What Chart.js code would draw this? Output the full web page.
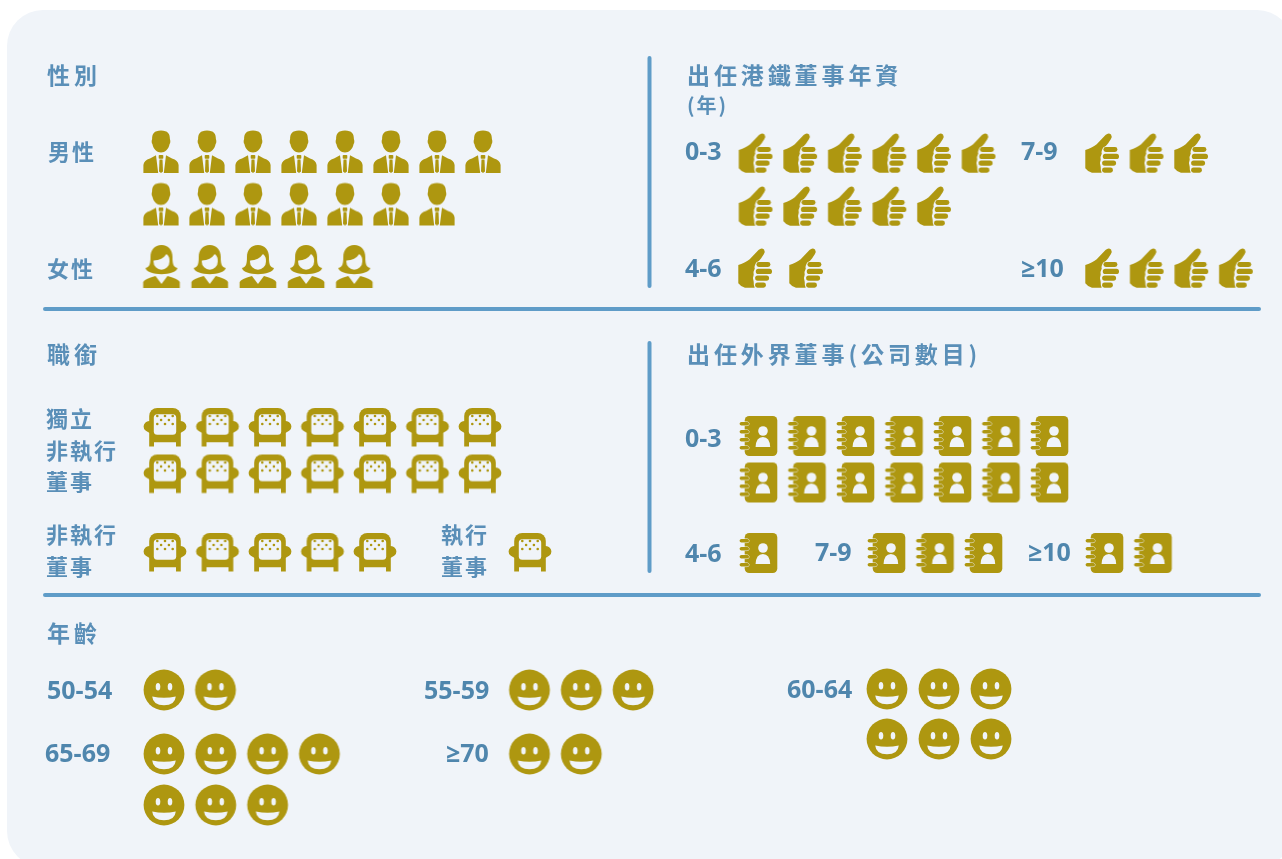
<!DOCTYPE html>
<html>
<head>
<meta charset="utf-8">
<title>董事會成員</title>
<script src="https://cdn.jsdelivr.net/npm/chart.js@4"></script>
<style>
  html, body { margin: 0; padding: 0; background: #fff; }
  canvas { display: block; }
</style>
</head>
<body>
<canvas id="board" width="1282" height="859"></canvas>
<script>
// data, one icon per director
var genderCats = ['男性', '女性'];
var genderCounts = [15, 5];
var tenureCats = ['0-3', '4-6', '7-9', '≥10'];
var tenureCounts = [11, 2, 3, 4];
var titleCats = ['獨立\n非執行\n董事', '非執行\n董事', '執行\n董事'];
var titleCounts = [14, 5, 1];
var outsideCats = ['0-3', '4-6', '7-9', '≥10'];
var outsideCounts = [14, 1, 3, 2];
var ageCats = ['50-54', '55-59', '60-64', '65-69', '≥70'];
var ageCounts = [2, 3, 6, 7, 2];

var headings = [
    { text: '性別', x: 47, y: 75 },
    { text: '出任港鐵董事年資', x: 687, y: 75 },
    { text: '(年)', x: 687, y: 105, size: 20 },
    { text: '職銜', x: 47, y: 354 },
    { text: '出任外界董事(公司數目)', x: 687, y: 354 },
    { text: '年齡', x: 47, y: 633 }
];

var GOLD = '#ae9710';
var PANEL = '#f0f4f9';
var BLUE = '#5f9cc8';
var TEXT = '#5a8fb8';
var NUM = '#4f86ad';

// where each category's icons start and how they wrap
var groups = [
    { cats: genderCats, counts: genderCounts, icon: 'man', slots: [
        { x: 161, y: 152, dx: 46, dy: 52.5, perRow: 8, lx: 48, ly: 152 },
        { x: 161.5, y: 267, dx: 48.2, dy: 0, perRow: 5, lx: 47, ly: 269, icon: 'woman' }
    ] },
    { cats: tenureCats, counts: tenureCounts, icon: 'thumb', slots: [
        { x: 755.5, y: 153, dx: 44.6, dy: 53, perRow: 6, lx: 685, ly: 153 },
        { x: 755, y: 268, dx: 51, dy: 0, perRow: 2, lx: 685, ly: 270 },
        { x: 1102, y: 153, dx: 44.5, dy: 0, perRow: 3, lx: 1021, ly: 153 },
        { x: 1102, y: 268, dx: 44.6, dy: 0, perRow: 4, lx: 1021, ly: 270 }
    ] },
    { cats: titleCats, counts: titleCounts, icon: 'chair', slots: [
        { x: 165, y: 427, dx: 52.5, dy: 46.5, perRow: 7, lx: 46, ly: 419 },
        { x: 165, y: 552, dx: 52.5, dy: 0, perRow: 5, lx: 46, ly: 535 },
        { x: 530, y: 552, dx: 0, dy: 0, perRow: 1, lx: 441, ly: 535 }
    ] },
    { cats: outsideCats, counts: outsideCounts, icon: 'book', slots: [
        { x: 759, y: 436, dx: 48.5, dy: 46.5, perRow: 7, lx: 685, ly: 440 },
        { x: 759, y: 553, dx: 0, dy: 0, perRow: 1, lx: 685, ly: 555 },
        { x: 887, y: 553, dx: 48.5, dy: 0, perRow: 3, lx: 815, ly: 554 },
        { x: 1105, y: 553, dx: 48.5, dy: 0, perRow: 2, lx: 1028, ly: 554 }
    ] },
    { cats: ageCats, counts: ageCounts, icon: 'face', slots: [
        { x: 164, y: 690, dx: 51.5, dy: 0, perRow: 2, lx: 47, ly: 692 },
        { x: 529.5, y: 690, dx: 51.8, dy: 0, perRow: 3, lx: 424, ly: 692 },
        { x: 887, y: 689, dx: 52, dy: 50, perRow: 3, lx: 787, ly: 691 },
        { x: 164, y: 754, dx: 51.8, dy: 51, perRow: 4, lx: 45, ly: 755 },
        { x: 529.5, y: 754, dx: 51.8, dy: 0, perRow: 2, lx: 446, ly: 755 }
    ] }
];

// dividers, in the same units as the hidden axes
var dividers = [
    [649.5, 58, 649.5, 286],
    [45, 309, 1259, 309],
    [649.5, 343, 649.5, 571],
    [45, 595, 1259, 595]
];

function bar(c, x, y, w, h, r) {
    c.beginPath();
    c.roundRect(x, y, w, h, r);
    c.fill();
}

function jacket(c, s) {
    c.beginPath();
    c.moveTo(s * 17.6, 21);
    c.lineTo(s * 17.6, 13);
    c.quadraticCurveTo(s * 17, 8, s * 11, 6.5);
    c.lineTo(s * 5, 3.2);
    c.lineTo(s * 2.8, 21);
    c.closePath();
    c.fill();
}

var drawIcon = {
    man: function (c) {
        c.beginPath();
        c.moveTo(0, -21.5);
        c.bezierCurveTo(7, -21.5, 8.9, -18, 8.9, -13);
        c.bezierCurveTo(9.6, -11, 9.4, -8.5, 8.6, -8);
        c.bezierCurveTo(7.5, -2.5, 4, 0.5, 0, 0.5);
        c.bezierCurveTo(-4, 0.5, -7.5, -2.5, -8.6, -8);
        c.bezierCurveTo(-9.4, -8.5, -9.6, -11, -8.9, -13);
        c.bezierCurveTo(-8.9, -18, -7, -21.5, 0, -21.5);
        c.fill();
        jacket(c, -1);
        jacket(c, 1);
        bar(c, -2.3, 3, 4.6, 3.8, 0.8);
        c.beginPath();
        c.moveTo(-1.5, 7.6);
        c.lineTo(1.5, 7.6);
        c.lineTo(2, 19.5);
        c.lineTo(0, 21);
        c.lineTo(-2, 19.5);
        c.closePath();
        c.fill();
    },
    woman: function (c) {
        c.beginPath();
        c.moveTo(0, -22);
        c.bezierCurveTo(7, -22, 11, -17, 11, -10);
        c.bezierCurveTo(11, -4, 11.5, 0, 16, 1);
        c.bezierCurveTo(15, 5, 8, 7.2, 0, 7.2);
        c.bezierCurveTo(-8, 7.2, -15, 5, -16, 1);
        c.bezierCurveTo(-11.5, 0, -11, -4, -11, -10);
        c.bezierCurveTo(-11, -17, -7, -22, 0, -22);
        c.fill();
        c.fillStyle = PANEL;
        c.beginPath();
        c.moveTo(-7.8, -6.5);
        c.quadraticCurveTo(1, -7, 5, -13);
        c.quadraticCurveTo(8.5, -10.5, 8, -5.3);
        c.arc(0, -5.3, 8, 0, Math.PI);
        c.closePath();
        c.fill();
        c.fillStyle = GOLD;
        c.beginPath();
        c.moveTo(-18.3, 21);
        c.lineTo(-18.3, 15);
        c.quadraticCurveTo(-17, 12, -6, 9);
        c.lineTo(0, 17);
        c.lineTo(6, 9);
        c.quadraticCurveTo(17, 12, 18.3, 15);
        c.lineTo(18.3, 21);
        c.closePath();
        c.fill();
    },
    thumb: function (c) {
        c.beginPath();
        c.moveTo(-16.7, -3);
        c.quadraticCurveTo(-9, -5.5, -5.3, -8.7);
        c.lineTo(3.5, -18);
        c.quadraticCurveTo(6.5, -20.8, 9, -18.5);
        c.quadraticCurveTo(10.5, -16.5, 8.8, -13.8);
        c.lineTo(6, -9.5);
        c.quadraticCurveTo(4.5, -7, 1.2, -5.6);
        c.quadraticCurveTo(-1.2, -1, -0.2, 0.4);
        c.quadraticCurveTo(-2, 3.5, -1.3, 6.8);
        c.quadraticCurveTo(-3, 10.5, -1.3, 13.8);
        c.quadraticCurveTo(-1.5, 17, -0.3, 19.7);
        c.lineTo(-10, 19.7);
        c.quadraticCurveTo(-14, 19, -16.7, 15.3);
        c.closePath();
        c.fill();
        bar(c, 1.4, -6, 14, 5, 2.4);
        bar(c, 0.8, 0.7, 16.2, 5.3, 2.6);
        bar(c, 0.1, 7.4, 14, 5.3, 2.6);
        bar(c, 0.1, 14.4, 10.8, 5.3, 2.4);
    },
    chair: function (c) {
        bar(c, -15.8, -19, 31.6, 29, 8);
        c.beginPath();
        c.ellipse(-15.8, -0.5, 5.6, 5.4, 0, 0, Math.PI * 2);
        c.ellipse(15.8, -0.5, 5.6, 5.4, 0, 0, Math.PI * 2);
        c.fill();
        c.beginPath();
        c.moveTo(-20, 2);
        c.lineTo(-15.8, 6);
        c.lineTo(-15.8, 19.5);
        c.lineTo(-11, 19.5);
        c.lineTo(-11, 15.2);
        c.lineTo(11, 15.2);
        c.lineTo(11, 19.5);
        c.lineTo(15.8, 19.5);
        c.lineTo(15.8, 6);
        c.lineTo(20, 2);
        c.closePath();
        c.fill();
        c.fillStyle = PANEL;
        bar(c, -11.2, -12.8, 22.4, 20.6, 3.5);
        c.fillStyle = GOLD;
        [[-7.7, -11], [0, -11], [7.7, -11], [-3.9, -7], [3.9, -7], [-7.7, -3], [0, -3], [7.7, -3]].forEach(function (d) {
            c.beginPath();
            c.arc(d[0], d[1], 1.3, 0, Math.PI * 2);
            c.fill();
        });
    },
    book: function (c) {
        bar(c, -14.3, -20, 32.6, 40, 4.5);
        [-14, -6, 2, 10].forEach(function (y) {
            c.beginPath();
            c.roundRect(-19.4, y, 9.4, 3.6, 1.8);
            c.strokeStyle = PANEL;
            c.lineWidth = 1;
            c.stroke();
            c.fill();
        });
        c.fillStyle = PANEL;
        c.beginPath();
        c.arc(4, -5, 4.8, 0, Math.PI * 2);
        c.fill();
        c.beginPath();
        c.moveTo(-3.4, 11);
        c.lineTo(11.2, 11);
        c.quadraticCurveTo(10.8, 1.2, 3.9, 1);
        c.quadraticCurveTo(-3, 1.2, -3.4, 11);
        c.fill();
    },
    face: function (c) {
        c.beginPath();
        c.arc(0, 0, 20.4, 0, Math.PI * 2);
        c.fill();
        c.fillStyle = PANEL;
        [-6, 6].forEach(function (x) {
            c.beginPath();
            c.ellipse(x, -3.3, 2.3, 3.8, 0, 0, Math.PI * 2);
            c.fill();
        });
        c.beginPath();
        c.moveTo(-11.8, 6.4);
        c.quadraticCurveTo(0, 9, 11.8, 6.4);
        c.quadraticCurveTo(11, 15.2, 0, 15.2);
        c.quadraticCurveTo(-11, 15.2, -11.8, 6.4);
        c.fill();
    }
};

function makeIcon(name) {
    var cv = document.createElement('canvas');
    cv.width = 48;
    cv.height = 48;
    var c = cv.getContext('2d');
    c.translate(24, 24);
    c.fillStyle = GOLD;
    drawIcon[name](c);
    return cv;
}

var icons = {};
Object.keys(drawIcon).forEach(function (k) { icons[k] = makeIcon(k); });

// one scatter dataset per category, one point per person
var datasets = [];
var labels = [];
groups.forEach(function (g) {
    g.cats.forEach(function (cat, i) {
        var s = g.slots[i];
        var pts = [];
        for (var n = 0; n < g.counts[i]; n++) {
            pts.push({
                x: s.x + (n % s.perRow) * s.dx,
                y: s.y + Math.floor(n / s.perRow) * s.dy
            });
        }
        datasets.push({
            label: cat.replace(/\n/g, ''),
            data: pts,
            pointStyle: icons[s.icon || g.icon],
            pointRadius: 24,
            pointHoverRadius: 24
        });
        labels.push({ text: cat, x: s.lx, y: s.ly });
    });
});

function drawText(c, text, x, y, size, spacing, weight, family, color) {
    c.font = weight + ' ' + size + 'px ' + family;
    c.letterSpacing = spacing + 'px';
    c.fillStyle = color;
    c.textAlign = 'left';
    c.textBaseline = 'middle';
    c.fillText(text, x, y);
}

var panelPlugin = {
    id: 'panel',
    beforeDatasetsDraw: function (chart) {
        var c = chart.ctx;
        var xs = chart.scales.x;
        var ys = chart.scales.y;
        var cjk = '"Noto Sans CJK TC", sans-serif';
        c.save();
        c.fillStyle = PANEL;
        c.beginPath();
        c.roundRect(xs.getPixelForValue(7), ys.getPixelForValue(10), 1286, 857, 36);
        c.fill();

        c.strokeStyle = BLUE;
        c.lineWidth = 4;
        c.lineCap = 'round';
        dividers.forEach(function (d) {
            c.beginPath();
            c.moveTo(xs.getPixelForValue(d[0]), ys.getPixelForValue(d[1]));
            c.lineTo(xs.getPixelForValue(d[2]), ys.getPixelForValue(d[3]));
            c.stroke();
        });

        headings.forEach(function (h) {
            var size = h.size || 23;
            drawText(c, h.text, xs.getPixelForValue(h.x), ys.getPixelForValue(h.y), size, h.size ? 2 : 3.9, '700', cjk, TEXT);
        });
        labels.forEach(function (l) {
            if (/[\u4e00-\u9fff]/.test(l.text)) {
                l.text.split('\n').forEach(function (line, i) {
                    drawText(c, line, xs.getPixelForValue(l.x), ys.getPixelForValue(l.y + i * 31.5), 22, 2, '700', cjk, TEXT);
                });
            } else {
                drawText(c, l.text, xs.getPixelForValue(l.x), ys.getPixelForValue(l.y), 25, 0, '700', '"Open Sans", sans-serif', NUM);
            }
        });
        c.restore();
    }
};

new Chart(document.getElementById('board'), {
    type: 'scatter',
    data: { datasets: datasets },
    options: {
        responsive: false,
        animation: false,
        devicePixelRatio: 1,
        layout: { padding: 0, autoPadding: false },
        plugins: { legend: { display: false }, tooltip: { enabled: false } },
        scales: {
            x: { type: 'linear', display: false, min: 0, max: 1282 },
            y: { type: 'linear', display: false, min: 0, max: 859, reverse: true }
        }
    },
    plugins: [panelPlugin]
});
</script>
</body>
</html>
